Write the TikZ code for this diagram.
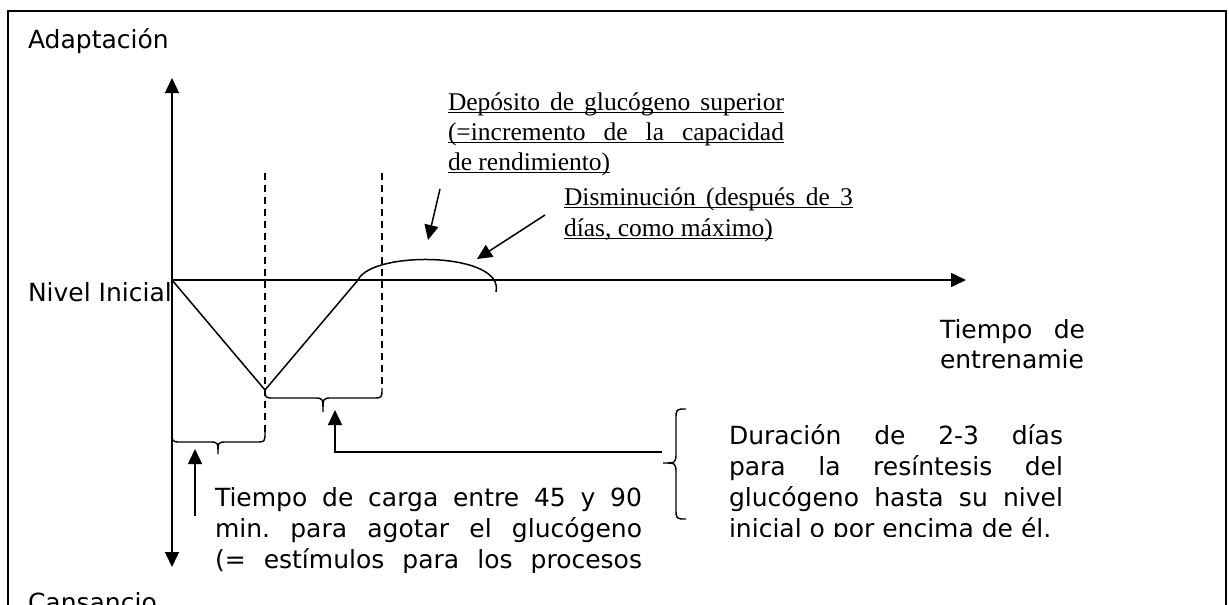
\documentclass[tikz,border=0pt]{standalone}
\usepackage{fontspec}
\setmainfont{DejaVu Sans}
\newfontfamily\timesf{Liberation Serif}
\usetikzlibrary{arrows.meta}
\frenchspacing
\newcommand{\ulbox}[2]{\rlap{\rule[-3.2pt]{#1}{1.3pt}}\makebox[#1][s]{#2}}
\newcommand{\ulnat}[1]{\setbox0\hbox{#1}\rlap{\rule[-3.2pt]{\wd0}{1.3pt}}\box0}
\begin{document}
\begin{tikzpicture}[x=1pt,y=-1pt,
  every node/.style={inner sep=0pt, outer sep=0pt},
  lbl/.style={font=\fontsize{25}{31}\selectfont, anchor=base west},
  slbl/.style={font=\timesf\fontsize{25.5}{30}\selectfont, anchor=base west},
  ln/.style={line width=1.5pt},
  ptr/.style={line width=1.5pt, -{Triangle[length=15pt,width=14pt]}},
  dptr/.style={line width=1.5pt, {Triangle[length=15pt,width=14pt]}-{Triangle[length=15pt,width=14pt]}},
  dashv/.style={line width=1.4pt, dash pattern=on 7pt off 5pt},
  boxframe/.style={line width=2pt},
  bracepath/.style={line width=1.4pt}
]
\useasboundingbox (0,0) rectangle (1229,605);
\clip (0,0) rectangle (1229,605);
\fill[white] (0,0) rectangle (1229,605);
\draw[boxframe] (8,640) -- (8,11) -- (1226,11) -- (1226,640);

% axis labels
\node[lbl] (adapt) at (28,48) {Adaptación};
\node[lbl] (nivel) at (28,301) {Nivel Inicial};
\node[lbl] (cans) at (28,611) {Cansancio};
\node[lbl] (tiempoA) at (940,338) {\makebox[145pt][s]{Tiempo de}};
\node[lbl] (tiempoB) at (940,368) {entrenamie};

% axes
\coordinate (O) at (172,280);
\coordinate (ytop) at (172,78);
\coordinate (ybot) at (172,567);
\coordinate (xend) at (966,280);
\draw[dptr] (ybot) -- (ytop);
\draw[ptr] (O) -- (xend);

% curve
\coordinate (V) at (265,390);
\coordinate (R) at (358,280);
\coordinate (E) at (496,292);
\draw[ln, line join=round] (O) -- (V) -- (R);
\draw[ln] (R) .. controls (372,250) and (505,252) .. (E);

% dashed verticals
\coordinate (d1t) at (265,173);
\coordinate (d1b) at (265,432);
\coordinate (d2t) at (382,173);
\coordinate (d2b) at (382,388);
\draw[dashv] (d1t) -- (d1b);
\draw[dashv] (d2t) -- (d2b);

% brace 1 (below, from axis to first dashed line)
\coordinate (b1tip) at (218,454);
\draw[bracepath] (172,430) .. controls (172,442) .. (181,442) -- (209,442)
  .. controls (218,442) .. (b1tip) .. controls (218,442) .. (227,442) -- (256,442)
  .. controls (265,442) .. (d1b);
% brace 2
\coordinate (b2tip) at (323,412);
\draw[bracepath] (265,388) .. controls (265,398) .. (274,398) -- (314,398)
  .. controls (323,398) .. (b2tip) .. controls (323,398) .. (332,398) -- (373,398)
  .. controls (382,398) .. (d2b);
% right curly brace
\coordinate (b3tip) at (663,463);
\draw[bracepath] (686,409) .. controls (676,409) .. (676,420) -- (676,452)
  .. controls (676,463) .. (b3tip) .. controls (676,463) .. (676,474) -- (676,508)
  .. controls (676,519) .. (686,519);

% pointer arrows
\coordinate (a1s) at (195,516);
\coordinate (a1e) at (195,449);
\draw[ptr] (a1s) -- (a1e);
\coordinate (a2s) at (662,452);
\coordinate (a2c) at (335,452);
\coordinate (a2e) at (335,410);
\draw[ptr] (a2s) -- (a2c) -- (a2e);
\coordinate (a3s) at (440,189);
\coordinate (a3e) at (428,240);
\draw[ptr] (a3s) -- (a3e);
\coordinate (a4s) at (545,215);
\coordinate (a4e) at (477,259);
\draw[ptr] (a4s) -- (a4e);

% serif underlined texts
\node[slbl] (dep1) at (448,110) {\ulbox{336pt}{Depósito de glucógeno superior}};
\node[slbl] (dep2) at (448,140) {\ulbox{336pt}{(=incremento de la capacidad}};
\node[slbl] (dep3) at (448,170) {\ulnat{de rendimiento)}};
\node[slbl] (dis1) at (564,205) {\ulbox{289pt}{Disminución (después de 3}};
\node[slbl] (dis2) at (564,236) {\ulnat{días, como máximo)}};

% left explanation
\node[lbl] (tc1) at (215,506) {\makebox[427pt][s]{Tiempo de carga entre 45 y 90}};
\node[lbl] (tc2) at (215,537) {\makebox[427pt][s]{min. para agotar el glucógeno}};
\begin{scope}
\clip (200,540) rectangle (660,572);
\node[lbl] (tc3) at (215,568) {\makebox[427pt][s]{(= estímulos para los procesos}};
\end{scope}

% right explanation
\node[lbl] (du1) at (729,444) {\makebox[334pt][s]{Duración de 2-3 días}};
\node[lbl] (du2) at (729,475) {\makebox[334pt][s]{para la resíntesis del}};
\node[lbl] (du3) at (729,506) {\makebox[334pt][s]{glucógeno hasta su nivel}};
\begin{scope}
\clip (720,510) rectangle (1100,536);
\node[lbl] (du4) at (729,537) {inicial o por encima de él.};
\end{scope}
\end{tikzpicture}
\end{document}
